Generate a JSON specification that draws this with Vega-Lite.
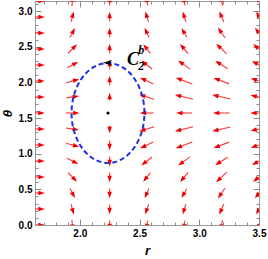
{
  "$schema": "https://vega.github.io/schema/vega-lite/v6.json",
  "width": 224,
  "height": 224,
  "autosize": "none",
  "padding": {"left": 35, "top": 1, "right": 9, "bottom": 34},
  "config": {
    "view": {"stroke": "#9a9a9a", "strokeWidth": 1},
    "axis": {
      "domain": false, "grid": false, "tickColor": "#8a8a8a", "tickWidth": 1,
      "labelFont": "Liberation Sans", "labelFontWeight": "bold", "labelFontSize": 10, "labelColor": "#000000",
      "titleFont": "Liberation Sans", "titleFontStyle": "italic", "titleFontWeight": "bold", "titleFontSize": 13, "titleColor": "#000000"
    }
  },
  "datasets": {
    "arrows": [
      {"r1": 1.5497, "t1": 0.0, "r2": 1.6794, "t2": 0.0, "a": 90},
      {"r1": 1.5497, "t1": 0.2244, "r2": 1.6794, "t2": 0.2244, "a": 90},
      {"r1": 1.5497, "t1": 0.4488, "r2": 1.6794, "t2": 0.4488, "a": 90},
      {"r1": 1.5497, "t1": 0.6732, "r2": 1.6794, "t2": 0.6732, "a": 90},
      {"r1": 1.5497, "t1": 0.8976, "r2": 1.6794, "t2": 0.8976, "a": 90},
      {"r1": 1.5497, "t1": 1.122, "r2": 1.6794, "t2": 1.122, "a": 90},
      {"r1": 1.5497, "t1": 1.3464, "r2": 1.6794, "t2": 1.3464, "a": 90},
      {"r1": 1.5497, "t1": 1.5708, "r2": 1.6794, "t2": 1.5708, "a": 90},
      {"r1": 1.5497, "t1": 1.7952, "r2": 1.6794, "t2": 1.7952, "a": 90},
      {"r1": 1.5497, "t1": 2.0196, "r2": 1.6794, "t2": 2.0196, "a": 90},
      {"r1": 1.5497, "t1": 2.244, "r2": 1.6794, "t2": 2.244, "a": 90},
      {"r1": 1.5497, "t1": 2.4684, "r2": 1.6794, "t2": 2.4684, "a": 90},
      {"r1": 1.5497, "t1": 2.6928, "r2": 1.6794, "t2": 2.6928, "a": 90},
      {"r1": 1.5497, "t1": 2.9172, "r2": 1.6794, "t2": 2.9172, "a": 90},
      {"r1": 1.5497, "t1": 3.1416, "r2": 1.6794, "t2": 3.1416, "a": 90},

      {"r1": 1.9339, "t1": 0.0698, "r2": 1.9393, "t2": -0.0349, "a": 175},
      {"r1": 1.9267, "t1": 0.2921, "r2": 1.9429, "t2": 0.1905, "a": 165},
      {"r1": 1.9179, "t1": 0.5107, "r2": 1.9473, "t2": 0.4178, "a": 152},
      {"r1": 1.902, "t1": 0.7327, "r2": 1.9582, "t2": 0.6385, "a": 135},
      {"r1": 1.8928, "t1": 0.9358, "r2": 1.9636, "t2": 0.8753, "a": 117},
      {"r1": 1.885, "t1": 1.1456, "r2": 1.9698, "t2": 1.1075, "a": 105},
      {"r1": 1.8878, "t1": 1.3581, "r2": 1.9665, "t2": 1.3396, "a": 98},
      {"r1": 1.8831, "t1": 1.5708, "r2": 1.971, "t2": 1.5708, "a": 90},
      {"r1": 1.8878, "t1": 1.7835, "r2": 1.9665, "t2": 1.802, "a": 82},
      {"r1": 1.885, "t1": 1.996, "r2": 1.9698, "t2": 2.0341, "a": 75},
      {"r1": 1.8928, "t1": 2.2058, "r2": 1.9636, "t2": 2.2663, "a": 63},
      {"r1": 1.902, "t1": 2.4089, "r2": 1.9582, "t2": 2.5031, "a": 45},
      {"r1": 1.9179, "t1": 2.6309, "r2": 1.9473, "t2": 2.7238, "a": 28},
      {"r1": 1.9267, "t1": 2.8495, "r2": 1.9429, "t2": 2.9511, "a": 15},
      {"r1": 1.9339, "t1": 3.0718, "r2": 1.9393, "t2": 3.1765, "a": 5},

      {"r1": 2.25, "t1": 0.0631, "r2": 2.25, "t2": -0.0281, "a": 180},
      {"r1": 2.25, "t1": 0.2875, "r2": 2.25, "t2": 0.1963, "a": 180},
      {"r1": 2.25, "t1": 0.5119, "r2": 2.25, "t2": 0.4207, "a": 180},
      {"r1": 2.25, "t1": 0.7363, "r2": 2.25, "t2": 0.6451, "a": 180},
      {"r1": 2.25, "t1": 0.9607, "r2": 2.25, "t2": 0.8695, "a": 180},
      {"r1": 2.25, "t1": 1.1851, "r2": 2.25, "t2": 1.0939, "a": 180},
      {"r1": 2.25, "t1": 1.3955, "r2": 2.25, "t2": 1.3324, "a": 180},
      {"r1": 2.25, "t1": 1.7461, "r2": 2.25, "t2": 1.8092, "a": 0},
      {"r1": 2.25, "t1": 1.9565, "r2": 2.25, "t2": 2.0477, "a": 0},
      {"r1": 2.25, "t1": 2.1809, "r2": 2.25, "t2": 2.2721, "a": 0},
      {"r1": 2.25, "t1": 2.4053, "r2": 2.25, "t2": 2.4965, "a": 0},
      {"r1": 2.25, "t1": 2.6297, "r2": 2.25, "t2": 2.7209, "a": 0},
      {"r1": 2.25, "t1": 2.8541, "r2": 2.25, "t2": 2.9453, "a": 0},
      {"r1": 2.25, "t1": 3.0785, "r2": 2.25, "t2": 3.1697, "a": 0},

      {"r1": 2.5677, "t1": 0.0625, "r2": 2.5602, "t2": -0.0278, "a": 188},
      {"r1": 2.5754, "t1": 0.2911, "r2": 2.556, "t2": 0.1911, "a": 198},
      {"r1": 2.5802, "t1": 0.5123, "r2": 2.5537, "t2": 0.417, "a": 205},
      {"r1": 2.5909, "t1": 0.734, "r2": 2.547, "t2": 0.64, "a": 218},
      {"r1": 2.6054, "t1": 0.9538, "r2": 2.5361, "t2": 0.863, "a": 232},
      {"r1": 2.6156, "t1": 1.1635, "r2": 2.5284, "t2": 1.0953, "a": 245},
      {"r1": 2.6225, "t1": 1.3771, "r2": 2.5225, "t2": 1.3259, "a": 253},
      {"r1": 2.6169, "t1": 1.5708, "r2": 2.529, "t2": 1.5708, "a": 270},
      {"r1": 2.6225, "t1": 1.7645, "r2": 2.5225, "t2": 1.8157, "a": 287},
      {"r1": 2.6156, "t1": 1.9781, "r2": 2.5284, "t2": 2.0463, "a": 295},
      {"r1": 2.6054, "t1": 2.1878, "r2": 2.5361, "t2": 2.2786, "a": 308},
      {"r1": 2.5909, "t1": 2.4076, "r2": 2.547, "t2": 2.5016, "a": 322},
      {"r1": 2.5802, "t1": 2.6293, "r2": 2.5537, "t2": 2.7246, "a": 335},
      {"r1": 2.5754, "t1": 2.8505, "r2": 2.556, "t2": 2.9505, "a": 342},
      {"r1": 2.5677, "t1": 3.0791, "r2": 2.5602, "t2": 3.1694, "a": 352},

      {"r1": 2.8802, "t1": 0.0625, "r2": 2.8727, "t2": -0.0278, "a": 188},
      {"r1": 2.8872, "t1": 0.2914, "r2": 2.8689, "t2": 0.1909, "a": 197},
      {"r1": 2.8959, "t1": 0.5095, "r2": 2.8645, "t2": 0.4184, "a": 210},
      {"r1": 2.9073, "t1": 0.7377, "r2": 2.8562, "t2": 0.6356, "a": 220},
      {"r1": 2.9224, "t1": 0.9553, "r2": 2.8445, "t2": 0.8605, "a": 234},
      {"r1": 2.9414, "t1": 1.1647, "r2": 2.8281, "t2": 1.0919, "a": 249},
      {"r1": 2.9481, "t1": 1.3769, "r2": 2.8222, "t2": 1.3243, "a": 256},
      {"r1": 2.9378, "t1": 1.5708, "r2": 2.8332, "t2": 1.5708, "a": 270},
      {"r1": 2.9481, "t1": 1.7647, "r2": 2.8222, "t2": 1.8173, "a": 284},
      {"r1": 2.9414, "t1": 1.9769, "r2": 2.8281, "t2": 2.0497, "a": 291},
      {"r1": 2.9224, "t1": 2.1863, "r2": 2.8445, "t2": 2.2811, "a": 306},
      {"r1": 2.9073, "t1": 2.4039, "r2": 2.8562, "t2": 2.506, "a": 320},
      {"r1": 2.8959, "t1": 2.6321, "r2": 2.8645, "t2": 2.7232, "a": 330},
      {"r1": 2.8872, "t1": 2.8502, "r2": 2.8689, "t2": 2.9507, "a": 343},
      {"r1": 2.8802, "t1": 3.0791, "r2": 2.8727, "t2": 3.1694, "a": 352},

      {"r1": 3.1948, "t1": 0.0691, "r2": 3.1839, "t2": -0.0345, "a": 190},
      {"r1": 3.2055, "t1": 0.2954, "r2": 3.1777, "t2": 0.1856, "a": 203},
      {"r1": 3.2156, "t1": 0.5186, "r2": 3.1711, "t2": 0.4081, "a": 214},
      {"r1": 3.2296, "t1": 0.7414, "r2": 3.1604, "t2": 0.6293, "a": 226},
      {"r1": 3.2366, "t1": 0.9511, "r2": 3.1559, "t2": 0.8632, "a": 237},
      {"r1": 3.25, "t1": 1.1622, "r2": 3.1445, "t2": 1.0944, "a": 249},
      {"r1": 3.2609, "t1": 1.3748, "r2": 3.1345, "t2": 1.3259, "a": 257},
      {"r1": 3.2544, "t1": 1.5708, "r2": 3.1415, "t2": 1.5708, "a": 270},
      {"r1": 3.2609, "t1": 1.7668, "r2": 3.1345, "t2": 1.8157, "a": 283},
      {"r1": 3.25, "t1": 1.9794, "r2": 3.1445, "t2": 2.0472, "a": 291},
      {"r1": 3.2366, "t1": 2.1905, "r2": 3.1559, "t2": 2.2784, "a": 303},
      {"r1": 3.2296, "t1": 2.4002, "r2": 3.1604, "t2": 2.5123, "a": 314},
      {"r1": 3.2156, "t1": 2.623, "r2": 3.1711, "t2": 2.7335, "a": 326},
      {"r1": 3.2055, "t1": 2.8462, "r2": 3.1777, "t2": 2.956, "a": 337},
      {"r1": 3.1948, "t1": 3.0725, "r2": 3.1839, "t2": 3.1761, "a": 350},

      {"r1": 3.5087, "t1": 0.0686, "r2": 3.4956, "t2": -0.0343, "a": 192},
      {"r1": 3.5202, "t1": 0.2937, "r2": 3.489, "t2": 0.1866, "a": 206},
      {"r1": 3.5309, "t1": 0.5151, "r2": 3.482, "t2": 0.4101, "a": 218},
      {"r1": 3.5449, "t1": 0.7363, "r2": 3.4712, "t2": 0.6326, "a": 230},
      {"r1": 3.5544, "t1": 0.9502, "r2": 3.4638, "t2": 0.8625, "a": 240},
      {"r1": 3.5633, "t1": 1.1586, "r2": 3.4565, "t2": 1.0969, "a": 251},
      {"r1": 3.5655, "t1": 1.3697, "r2": 3.455, "t2": 1.3304, "a": 258},
      {"r1": 3.5669, "t1": 1.5708, "r2": 3.454, "t2": 1.5708, "a": 270},
      {"r1": 3.5655, "t1": 1.7719, "r2": 3.455, "t2": 1.8112, "a": 282},
      {"r1": 3.5633, "t1": 1.983, "r2": 3.4565, "t2": 2.0447, "a": 289},
      {"r1": 3.5544, "t1": 2.1914, "r2": 3.4638, "t2": 2.2791, "a": 300},
      {"r1": 3.5449, "t1": 2.4053, "r2": 3.4712, "t2": 2.509, "a": 310},
      {"r1": 3.5309, "t1": 2.6265, "r2": 3.482, "t2": 2.7315, "a": 322},
      {"r1": 3.5202, "t1": 2.8479, "r2": 3.489, "t2": 2.955, "a": 334},
      {"r1": 3.5087, "t1": 3.073, "r2": 3.4956, "t2": 3.1759, "a": 348}
    ],
    "ellipse": [
      {"i": 0, "r": 2.541, "theta": 1.5708},
      {"i": 1, "r": 2.5364, "theta": 1.6923},
      {"i": 2, "r": 2.5226, "theta": 1.8102},
      {"i": 3, "r": 2.5001, "theta": 1.9208},
      {"i": 4, "r": 2.4696, "theta": 2.0208},
      {"i": 5, "r": 2.4321, "theta": 2.107},
      {"i": 6, "r": 2.3885, "theta": 2.177},
      {"i": 7, "r": 2.3403, "theta": 2.2286},
      {"i": 8, "r": 2.2889, "theta": 2.2602},
      {"i": 9, "r": 2.236, "theta": 2.2708},
      {"i": 10, "r": 2.1831, "theta": 2.2602},
      {"i": 11, "r": 2.1317, "theta": 2.2286},
      {"i": 12, "r": 2.0835, "theta": 2.177},
      {"i": 13, "r": 2.0399, "theta": 2.107},
      {"i": 14, "r": 2.0024, "theta": 2.0208},
      {"i": 15, "r": 1.9719, "theta": 1.9208},
      {"i": 16, "r": 1.9494, "theta": 1.8102},
      {"i": 17, "r": 1.9356, "theta": 1.6923},
      {"i": 18, "r": 1.931, "theta": 1.5708},
      {"i": 19, "r": 1.9356, "theta": 1.4493},
      {"i": 20, "r": 1.9494, "theta": 1.3314},
      {"i": 21, "r": 1.9719, "theta": 1.2208},
      {"i": 22, "r": 2.0024, "theta": 1.1208},
      {"i": 23, "r": 2.0399, "theta": 1.0346},
      {"i": 24, "r": 2.0835, "theta": 0.9646},
      {"i": 25, "r": 2.1317, "theta": 0.913},
      {"i": 26, "r": 2.1831, "theta": 0.8814},
      {"i": 27, "r": 2.236, "theta": 0.8708},
      {"i": 28, "r": 2.2889, "theta": 0.8814},
      {"i": 29, "r": 2.3403, "theta": 0.913},
      {"i": 30, "r": 2.3885, "theta": 0.9646},
      {"i": 31, "r": 2.4321, "theta": 1.0346},
      {"i": 32, "r": 2.4696, "theta": 1.1208},
      {"i": 33, "r": 2.5001, "theta": 1.2208},
      {"i": 34, "r": 2.5226, "theta": 1.3314},
      {"i": 35, "r": 2.5364, "theta": 1.4493}
    ]
  },
  "layer": [
    {
      "data": {"name": "arrows"},
      "mark": {"type": "rule", "color": "#ff3333", "strokeWidth": 1.1, "clip": true},
      "encoding": {
        "x": {"field": "r1", "type": "quantitative",
              "scale": {"domain": [1.625, 3.5], "nice": false, "zero": false},
              "axis": {"orient": "bottom", "title": "r",
                       "values": [1.7, 1.8, 1.9, 2.0, 2.1, 2.2, 2.3, 2.4, 2.5, 2.6, 2.7, 2.8, 2.9, 3.0, 3.1, 3.2, 3.3, 3.4, 3.5],
                       "tickSize": {"condition": {"test": "abs(datum.value*2 - round(datum.value*2)) < 0.001", "value": -6}, "value": -3},
                       "labelExpr": "abs(datum.value*2 - round(datum.value*2)) < 0.001 ? format(datum.value, '.1f') : ''",
                       "labelPadding": 9, "titlePadding": 6, "labelFlush": false}},
        "y": {"field": "t1", "type": "quantitative",
              "scale": {"domain": [0, 3.14159], "nice": false, "zero": false},
              "axis": {"orient": "left", "title": "θ",
                       "values": [0, 0.1, 0.2, 0.3, 0.4, 0.5, 0.6, 0.7, 0.8, 0.9, 1.0, 1.1, 1.2, 1.3, 1.4, 1.5, 1.6, 1.7, 1.8, 1.9, 2.0, 2.1, 2.2, 2.3, 2.4, 2.5, 2.6, 2.7, 2.8, 2.9, 3.0, 3.1],
                       "tickSize": {"condition": {"test": "abs(datum.value*2 - round(datum.value*2)) < 0.001", "value": -6}, "value": -3},
                       "labelExpr": "abs(datum.value*2 - round(datum.value*2)) < 0.001 ? format(datum.value, '.1f') : ''",
                       "labelPadding": 9, "titlePadding": 4, "labelFlush": false}},
        "x2": {"field": "r2"},
        "y2": {"field": "t2"}
      }
    },
    {
      "data": {"name": "arrows"},
      "mark": {"type": "point", "shape": "M0,-1L0.72,1L-0.72,1Z", "filled": true, "color": "#f20000", "opacity": 1, "size": 40, "strokeWidth": 0, "clip": true},
      "encoding": {
        "x": {"field": "r2", "type": "quantitative", "scale": {"domain": [1.625, 3.5], "nice": false, "zero": false}, "axis": null},
        "y": {"field": "t2", "type": "quantitative", "scale": {"domain": [0, 3.14159], "nice": false, "zero": false}, "axis": null},
        "angle": {"field": "a", "type": "quantitative", "scale": null}
      }
    },
    {
      "data": {"name": "ellipse"},
      "mark": {"type": "line", "color": "#1f30e6", "strokeWidth": 2, "strokeDash": [5, 3], "interpolate": "cardinal-closed", "clip": true},
      "encoding": {
        "x": {"field": "r", "type": "quantitative", "scale": {"domain": [1.625, 3.5], "nice": false, "zero": false},
              "axis": {"orient": "top", "title": null, "labels": false,
                       "values": [1.7, 1.8, 1.9, 2.0, 2.1, 2.2, 2.3, 2.4, 2.5, 2.6, 2.7, 2.8, 2.9, 3.0, 3.1, 3.2, 3.3, 3.4, 3.5],
                       "tickSize": {"condition": {"test": "abs(datum.value*2 - round(datum.value*2)) < 0.001", "value": -6}, "value": -3}}},
        "y": {"field": "theta", "type": "quantitative", "scale": {"domain": [0, 3.14159], "nice": false, "zero": false},
              "axis": {"orient": "right", "title": null, "labels": false,
                       "values": [0, 0.1, 0.2, 0.3, 0.4, 0.5, 0.6, 0.7, 0.8, 0.9, 1.0, 1.1, 1.2, 1.3, 1.4, 1.5, 1.6, 1.7, 1.8, 1.9, 2.0, 2.1, 2.2, 2.3, 2.4, 2.5, 2.6, 2.7, 2.8, 2.9, 3.0, 3.1],
                       "tickSize": {"condition": {"test": "abs(datum.value*2 - round(datum.value*2)) < 0.001", "value": -6}, "value": -3}}},
        "order": {"field": "i", "type": "quantitative"}
      }
    },
    {
      "data": {"values": [{"r": 2.236, "theta": 1.5708}]},
      "mark": {"type": "point", "shape": "circle", "filled": true, "color": "#000000", "opacity": 1, "size": 10},
      "encoding": {
        "x": {"field": "r", "type": "quantitative", "scale": {"domain": [1.625, 3.5], "nice": false, "zero": false}, "axis": null},
        "y": {"field": "theta", "type": "quantitative", "scale": {"domain": [0, 3.14159], "nice": false, "zero": false}, "axis": null}
      }
    },
    {
      "data": {"values": [{"r": 2.236, "theta": 2.274, "a": 270}]},
      "mark": {"type": "point", "shape": "M0,-1L0.55,0.8L0,0.45L-0.55,0.8Z", "filled": true, "color": "#000000", "opacity": 1, "size": 100, "strokeWidth": 0},
      "encoding": {
        "x": {"field": "r", "type": "quantitative", "scale": {"domain": [1.625, 3.5], "nice": false, "zero": false}, "axis": null},
        "y": {"field": "theta", "type": "quantitative", "scale": {"domain": [0, 3.14159], "nice": false, "zero": false}, "axis": null},
        "angle": {"field": "a", "type": "quantitative", "scale": null}
      }
    },
    {
      "data": {"values": [{"label": "C", "r": 2.445, "theta": 2.31}]},
      "mark": {"type": "text", "font": "Liberation Serif", "fontSize": 18, "fontStyle": "italic", "fontWeight": "bold", "color": "#000000", "align": "center", "baseline": "middle"},
      "encoding": {
        "x": {"field": "r", "type": "quantitative", "scale": {"domain": [1.625, 3.5], "nice": false, "zero": false}, "axis": null},
        "y": {"field": "theta", "type": "quantitative", "scale": {"domain": [0, 3.14159], "nice": false, "zero": false}, "axis": null},
        "text": {"field": "label"}
      }
    },
    {
      "data": {"values": [{"label": "b", "r": 2.515, "theta": 2.46}, {"label": "2", "r": 2.515, "theta": 2.225}]},
      "mark": {"type": "text", "font": "Liberation Serif", "fontSize": 12, "fontStyle": "italic", "fontWeight": "bold", "color": "#000000", "align": "center", "baseline": "middle"},
      "encoding": {
        "x": {"field": "r", "type": "quantitative", "scale": {"domain": [1.625, 3.5], "nice": false, "zero": false}, "axis": null},
        "y": {"field": "theta", "type": "quantitative", "scale": {"domain": [0, 3.14159], "nice": false, "zero": false}, "axis": null},
        "text": {"field": "label"}
      }
    }
  ],
  "resolve": {"axis": {"x": "independent", "y": "independent"}}
}
